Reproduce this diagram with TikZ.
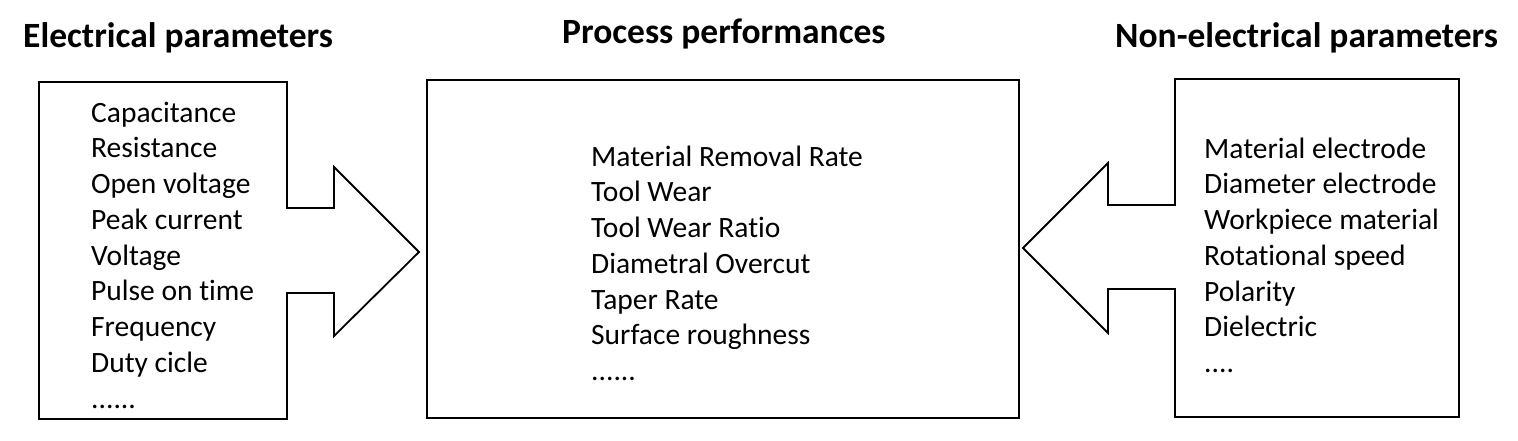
\documentclass[tikz,border=0pt]{standalone}
\usepackage{fontspec}
\setmainfont{Carlito}[Ligatures=NoCommon]
\begin{document}
\begin{tikzpicture}[x=1pt,y=-1pt,
  outline/.style={draw=black,line width=1.8pt,line join=miter},
  listtext/.style={anchor=base west,inner sep=0pt,font=\fontsize{29.5}{35.75}\selectfont},
  title/.style={anchor=base west,inner sep=0pt,font=\fontsize{35.5}{40}\selectfont\bfseries}]
\useasboundingbox (0,0) rectangle (1518,440);
% left shape with arrow
\draw[outline] (39,82) -- (287,82) -- (287,208) -- (334,208) -- (334,167) -- (419,252)
  -- (334,336) -- (334,293) -- (287,293) -- (287,419) -- (39,419) -- cycle;
% right shape with arrow
\draw[outline] (1175,79) -- (1459,79) -- (1459,417) -- (1175,417) -- (1175,289)
  -- (1108,289) -- (1108,333) -- (1023,248) -- (1108,163) -- (1108,205) -- (1175,205) -- cycle;
% center box
\node[outline,minimum width=592pt,minimum height=338pt,inner sep=0pt,anchor=north west] (center) at (426,79) {};
% titles
\node[title] (t1) at (23,47) {Electrical parameters};
\node[title] (t2) at (562,43) {Process performances};
\node[title] (t3) at (1115,47) {Non-electrical parameters};
% lists
\foreach \t [count=\i from 0] in {Capacitance,Resistance,Open voltage,Peak current,Voltage,Pulse on time,Frequency,Duty cicle}
  \node[listtext] (l1-\i) at (91,122+35.75*\i) {\t};
\node[listtext] (l1-8) at (91,122+35.75*8) {......};
\foreach \t [count=\i from 0] in {Material Removal Rate,Tool Wear,Tool Wear Ratio,Diametral Overcut,Taper Rate,Surface roughness}
  \node[listtext] (l2-\i) at (591,166+35.75*\i) {\t};
\node[listtext] (l2-6) at (591,166+35.75*6) {......};
\foreach \t [count=\i from 0] in {Material electrode,Diameter electrode,Workpiece material,Rotational speed,Polarity,Dielectric}
  \node[listtext] (l3-\i) at (1204,158+35.75*\i) {\t};
\node[listtext] (l3-6) at (1204,158+35.75*6) {....};
\end{tikzpicture}
\end{document}
